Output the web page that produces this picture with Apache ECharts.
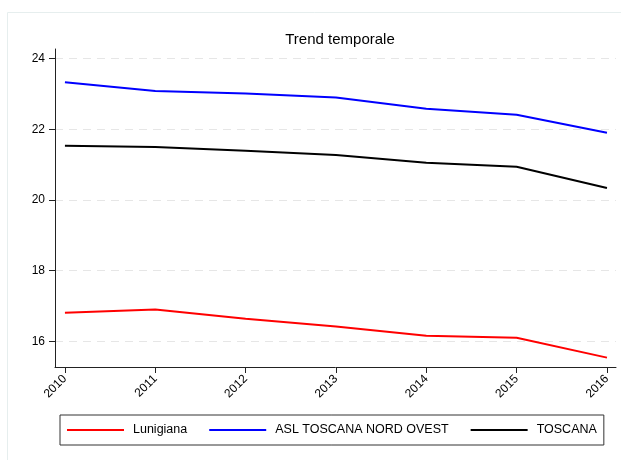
<!DOCTYPE html>
<html>
<head>
<meta charset="utf-8">
<script src="https://cdn.jsdelivr.net/npm/echarts@6/dist/echarts.min.js"></script>
<style>
  html, body { margin: 0; padding: 0; background: #fff; }
  #chart { width: 621px; height: 460px; }
</style>
</head>
<body>
<div id="chart"></div>
<script>
// anni
const years = [2010, 2011, 2012, 2013, 2014, 2015, 2016]
// valori
const lunigiana = [16.81, 16.90, 16.64, 16.42, 16.16, 16.10, 15.54]
const aslNordOvest = [23.33, 23.08, 23.01, 22.90, 22.58, 22.41, 21.90]
const toscana = [21.53, 21.50, 21.39, 21.27, 21.05, 20.94, 20.34]
const yTicks = [16, 18, 20, 22, 24]

const font = 'Liberation Sans, Arial, sans-serif'

function pairs(vals) {
  return years.map((y, i) => [y, vals[i]])
}

const chart = echarts.init(document.getElementById('chart'))
const option = {
  backgroundColor: '#fff',
  animation: false,
  title: {
    text: 'Trend temporale',
    left: 335,
    textAlign: 'center',
    top: 27,
    textStyle: { fontFamily: font, fontSize: 15, fontWeight: 'normal', color: '#000' }
  },
  graphic: [
    {
      type: 'rect',
      shape: { x: 7.5, y: 12.5, width: 700, height: 600 },
      style: { fill: 'none', stroke: '#e6eeee', lineWidth: 1 },
      silent: true
    }
  ],
  legend: {
    left: 60,
    top: 415,
    orient: 'horizontal',
    icon: 'rect',
    itemWidth: 57,
    itemHeight: 2,
    itemGap: 22,
    padding: [7, 7, 7, 7],
    borderColor: '#333',
    borderWidth: 1,
    borderRadius: 0,
    textStyle: { fontFamily: font, fontSize: 12.5, color: '#000', padding: [0, 0, 0, 4], lineHeight: 16 },
    data: ['Lunigiana', 'ASL TOSCANA NORD OVEST', 'TOSCANA']
  },
  grid: {
    left: 55,
    right: 5,
    top: 49,
    bottom: 93
  },
  xAxis: {
    type: 'value',
    min: 2009.89,
    max: 2016.1,
    axisLine: { show: true, lineStyle: { color: '#222', width: 1 } },
    axisTick: { show: true, length: 6, customValues: years, lineStyle: { color: '#222' } },
    axisLabel: {
      customValues: years,
      rotate: 45,
      margin: 10,
      fontFamily: font,
      fontSize: 12,
      color: '#000',
      formatter: v => String(Math.round(v))
    },
    splitLine: { show: false }
  },
  yAxis: {
    type: 'value',
    min: 15.275,
    max: 24.27,
    axisLine: { show: true, lineStyle: { color: '#222', width: 1 } },
    axisTick: { show: true, length: 6, customValues: yTicks, lineStyle: { color: '#222' } },
    axisLabel: {
      customValues: yTicks,
      margin: 10,
      fontFamily: font,
      fontSize: 12,
      color: '#000',
      formatter: v => String(Math.round(v))
    },
    splitLine: {
      show: true,
      lineStyle: { color: '#e6e6e6', type: [8, 6], width: 1 }
    }
  },
  series: [
    {
      name: 'Lunigiana',
      type: 'line',
      symbol: 'none',
      data: pairs(lunigiana),
      lineStyle: { color: '#ff0000', width: 2 },
      itemStyle: { color: '#ff0000' }
    },
    {
      name: 'ASL TOSCANA NORD OVEST',
      type: 'line',
      symbol: 'none',
      data: pairs(aslNordOvest),
      lineStyle: { color: '#0000ff', width: 2 },
      itemStyle: { color: '#0000ff' }
    },
    {
      name: 'TOSCANA',
      type: 'line',
      symbol: 'none',
      data: pairs(toscana),
      lineStyle: { color: '#000000', width: 2 },
      itemStyle: { color: '#000000' }
    }
  ]
}
chart.setOption(option)
</script>
</body>
</html>
